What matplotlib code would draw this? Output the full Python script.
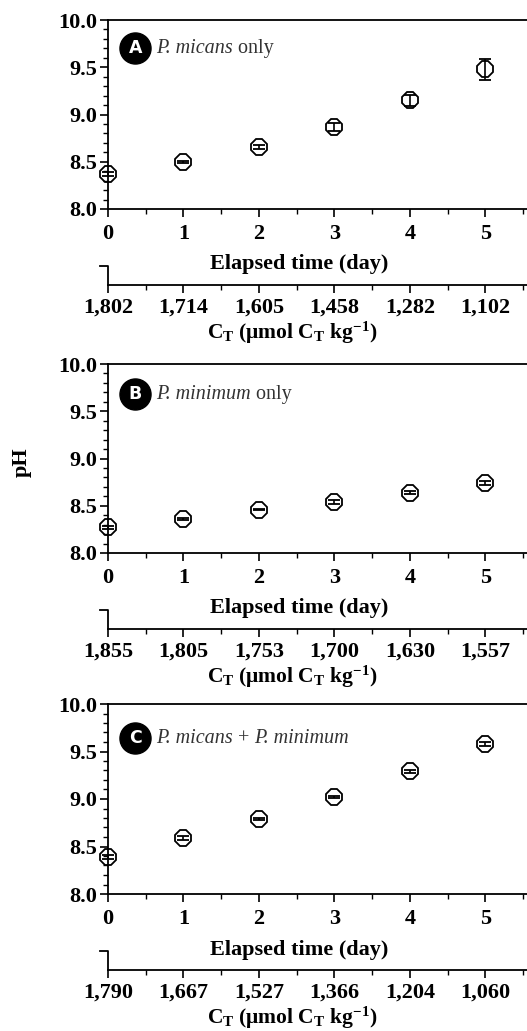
import numpy as np
import matplotlib.pyplot as plt
from matplotlib.ticker import MultipleLocator

plt.rcParams['font.family'] = ['Liberation Serif', 'DejaVu Serif']
plt.rcParams['mathtext.fontset'] = 'custom'
plt.rcParams['mathtext.rm'] = 'Liberation Serif'
plt.rcParams['mathtext.bf'] = 'Liberation Serif:bold'
plt.rcParams['mathtext.it'] = 'Liberation Serif:italic'

days = [0, 1, 2, 3, 4, 5]

ph_a = [8.37, 8.50, 8.66, 8.87, 9.15, 9.48]
err_a = [0.02, 0.01, 0.02, 0.045, 0.06, 0.11]
ct_a = ['1,802', '1,714', '1,605', '1,458', '1,282', '1,102']

ph_b = [8.27, 8.36, 8.46, 8.54, 8.64, 8.74]
err_b = [0.02, 0.01, 0.01, 0.02, 0.02, 0.02]
ct_b = ['1,855', '1,805', '1,753', '1,700', '1,630', '1,557']

ph_c = [8.39, 8.59, 8.79, 9.02, 9.29, 9.58]
err_c = [0.02, 0.02, 0.01, 0.01, 0.02, 0.02]
ct_c = ['1,790', '1,667', '1,527', '1,366', '1,204', '1,060']

letters = ['A', 'B', 'C']
species = [
    [('P. micans', 'italic'), (' only', 'normal')],
    [('P. minimum', 'italic'), (' only', 'normal')],
    [('P. micans', 'italic'), (' + ', 'normal'), ('P. minimum', 'italic')],
]

W, H = 527, 1031
fig = plt.figure(figsize=(W / 100, H / 100), dpi=100)

panels = [(20, 209, ph_a, err_a, ct_a), (364, 553, ph_b, err_b, ct_b), (704, 894, ph_c, err_c, ct_c)]
label_y = [9.70, 9.68, 9.64]
left = 108 / W
fs = 16

for k, (top, bot, ph, err, ct) in enumerate(panels):
    ax = fig.add_axes([left, 1 - bot / H, 1 - left, (bot - top) / H])
    ax.errorbar(days, ph, yerr=err, fmt='8', ms=12, mfc='none', mec='black', mew=1.3,
                ecolor='black', elinewidth=1.2, capsize=4.5, capthick=1.2, color='black',
                clip_on=False, zorder=3)
    ax.set_xlim(0, 5.55)
    ax.set_ylim(8.0, 10.0)
    ax.spines['right'].set_visible(False)
    for s in ['left', 'bottom', 'top']:
        ax.spines[s].set_linewidth(1.3)
    ax.xaxis.set_major_locator(MultipleLocator(1))
    ax.xaxis.set_minor_locator(MultipleLocator(0.5))
    ax.yaxis.set_minor_locator(MultipleLocator(0.1))
    ax.set_yticks([8.0, 8.5, 9.0, 9.5, 10.0])
    ax.set_yticklabels(['8.0', '8.5', '9.0', '9.5', '10.0'])
    ax.tick_params(which='major', length=6, width=1.2, labelsize=fs)
    ax.tick_params(axis='x', which='major', pad=5)
    ax.tick_params(axis='y', which='major', pad=2)
    ax.tick_params(which='minor', length=3.5, width=1.0)
    for lab in ax.get_xticklabels() + ax.get_yticklabels():
        lab.set_fontweight('bold')
    ax.set_xlabel('Elapsed time (day)', fontsize=fs, fontweight='bold')
    ax.xaxis.set_label_coords(0.456, -0.24)

    # second axis with total carbon
    sec = ax.secondary_xaxis(-0.40)
    sec.set_xticks(days)
    sec.set_xticklabels(ct, fontweight='bold')
    sec.xaxis.set_minor_locator(MultipleLocator(0.5))
    sec.spines['bottom'].set_linewidth(1.3)
    sec.tick_params(which='major', length=6, width=1.2, labelsize=fs, pad=3)
    sec.tick_params(which='minor', length=3.5, width=1.0)
    fig.text(292 / W, 1 - (bot + 124) / H,
             r'$\mathbf{C_T}$ (μmol $\mathbf{C_T}$ kg$^{\mathbf{-1}}$)',
             fontsize=15.5, fontweight='bold', ha='center', va='center')
    # little bracket on the second axis
    ax.plot([-8 / 75.5, 0, 0], [7.40, 7.40, 7.20],
            color='black', lw=1.3, clip_on=False)

    # panel label
    ly = label_y[k]
    ax.scatter([0.36], [ly], s=500, color='black', clip_on=False, zorder=4)
    ax.text(0.36, ly, letters[k], color='white', fontsize=12.5, fontweight='bold',
            family='DejaVu Sans', ha='center', va='center', zorder=5)
    txt = None
    for part, style in species[k]:
        if txt is None:
            txt = ax.text(0.64, ly, part, fontsize=14.5, style=style, color='#333333',
                          va='center', ha='left')
        else:
            txt = ax.annotate(part, xycoords=txt, xy=(1, 0), va='bottom', ha='left',
                              fontsize=14.5, style=style, color='#333333')

fig.text(22 / W, 1 - 462 / H, 'pH', rotation=90, fontsize=16, fontweight='bold',
         ha='center', va='center')

fig.savefig('out.png', dpi=100)
